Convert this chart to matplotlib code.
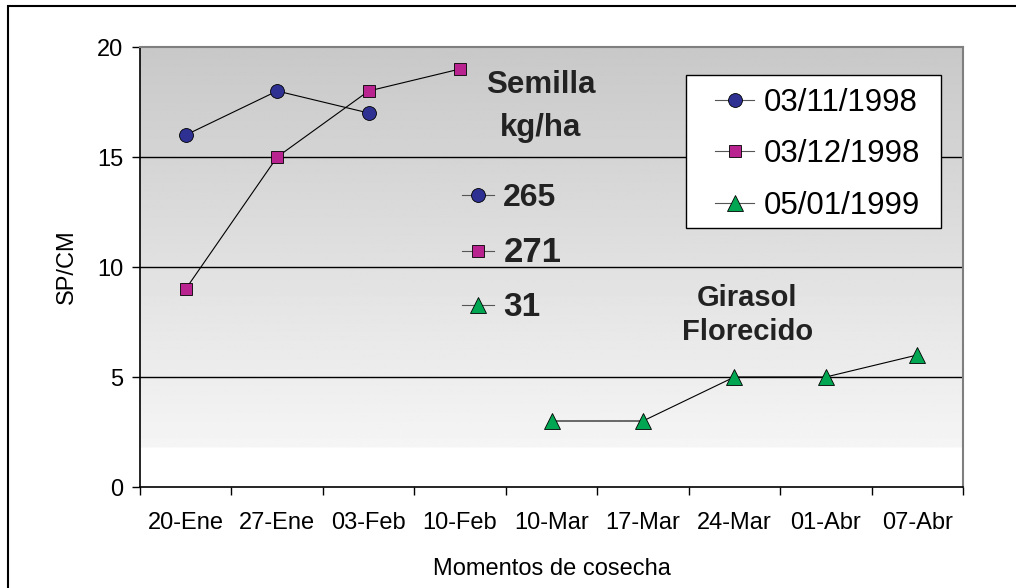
import numpy as np
import matplotlib
matplotlib.use("Agg")
import matplotlib.pyplot as plt
from matplotlib.lines import Line2D
from matplotlib.patches import Rectangle

plt.rcParams['font.family'] = ['Liberation Sans', 'DejaVu Sans']

fechas = ["20-Ene", "27-Ene", "03-Feb", "10-Feb", "10-Mar",
          "17-Mar", "24-Mar", "01-Abr", "07-Abr"]

# series (index into fechas, value)
s1_idx = [0, 1, 2]
s1_val = [16, 18, 17]
s2_idx = [0, 1, 2, 3]
s2_val = [9, 15, 18, 19]
s3_idx = [4, 5, 6, 7, 8]
s3_val = [3, 3, 5, 5, 6]

series_names = ["03/11/1998", "03/12/1998", "05/01/1999"]
semilla = ["265", "271", "31"]

c_navy = "#2e3192"
c_mag = "#b8238f"
c_green = "#00a651"

fig = plt.figure(figsize=(10.16, 5.88), dpi=100)
ax = fig.add_axes([140/1016, 1-487/588, 823/1016, 440/588])

# gradient background
ys = np.linspace(0, 20, 400)
shade = np.where(ys < 1.8, 255, 245 - (ys - 1.8) / 18.2 * 45) / 255.0
img = np.repeat(shade[:, None], 2, axis=1)
ax.imshow(img, cmap="gray", vmin=0, vmax=1, origin="lower", aspect="auto",
          extent=(-0.5, 8.5, 0, 20), zorder=0, interpolation="bilinear")

for g in [5, 10, 15]:
    ax.axhline(g, color="black", lw=1.0, zorder=1)

ax.plot(s1_idx, s1_val, color="black", lw=0.8, marker="o", ms=10,
        mfc=c_navy, mec="black", mew=0.6, zorder=3)
ax.plot(s2_idx, s2_val, color="black", lw=0.8, marker="s", ms=8,
        mfc=c_mag, mec="black", mew=0.6, zorder=3)
ax.plot(s3_idx, s3_val, color="black", lw=0.8, marker="^", ms=11,
        mfc=c_green, mec="black", mew=0.6, zorder=3)

ax.set_xlim(-0.5, 8.5)
ax.set_ylim(0, 20)
ax.set_yticks([0, 5, 10, 15, 20])
ax.set_xticks(range(len(fechas)))
ax.set_xticklabels(fechas)
ax.set_xticks(np.arange(-0.5, 9, 1), minor=True)
ax.tick_params(axis="x", which="major", length=0, labelsize=17, pad=18)
ax.tick_params(axis="x", which="minor", length=6, width=1, direction="out")
ax.tick_params(axis="y", length=6, width=1, labelsize=17, pad=6)

for side in ["left", "bottom"]:
    ax.spines[side].set_color("black")
    ax.spines[side].set_linewidth(1.2)
for side in ["top", "right"]:
    ax.spines[side].set_color("#7f7f7f")
    ax.spines[side].set_linewidth(1.5)

ax.set_ylabel("SP/CM", fontsize=17, labelpad=14)
ax.set_xlabel("Momentos de cosecha", fontsize=17, labelpad=17)

h1 = Line2D([], [], color="#555555", lw=0.8, marker="o", ms=10, mfc=c_navy, mec="black", mew=0.6)
h2 = Line2D([], [], color="#555555", lw=0.8, marker="s", ms=8, mfc=c_mag, mec="black", mew=0.6)
h3 = Line2D([], [], color="#555555", lw=0.8, marker="^", ms=11, mfc=c_green, mec="black", mew=0.6)

# legend box drawn by hand so the padding matches
ax.add_patch(Rectangle(((686-140)/823, (487-228)/440), 255/823, 153/440,
                       transform=ax.transAxes, facecolor="white",
                       edgecolor="black", lw=1.0, zorder=4))
leg = ax.legend([h1, h2, h3], series_names, loc="upper left",
                bbox_to_anchor=((715-140)/823, (487-88)/440),
                fontsize=22.5, frameon=False,
                handlelength=1.25, handletextpad=0.3, labelspacing=0.68,
                borderpad=0, borderaxespad=0)
leg.set_zorder(5)
ax.add_artist(leg)

leg2 = ax.legend([h1, h2, h3], semilla, loc="upper left",
                 bbox_to_anchor=((449-140)/823, (487-170)/440),
                 frameon=False, handlelength=1.0, handletextpad=0.3,
                 labelspacing=0.72, borderaxespad=0,
                 prop={"size": 23, "weight": "bold"})
sizes = [23, 25, 24]
for t, s in zip(leg2.get_texts(), sizes):
    t.set_color("#222222")
    t.set_fontsize(s)

ax.text(3.885, 17.3, "Semilla\nkg/ha", fontsize=22.5, fontweight="bold",
        ha="center", va="center", linespacing=1.55, color="#222222")
ax.text(6.14, 7.82, "Girasol\nFlorecido", fontsize=21, fontweight="bold",
        ha="center", va="center", linespacing=1.3, color="#222222")

fig.patches.append(Rectangle((8/1016, -0.1), 1.1, 1 - 6/588 + 0.1,
                             transform=fig.transFigure, fill=False,
                             edgecolor="black", lw=1.5))

fig.savefig("out.png", dpi=100)
